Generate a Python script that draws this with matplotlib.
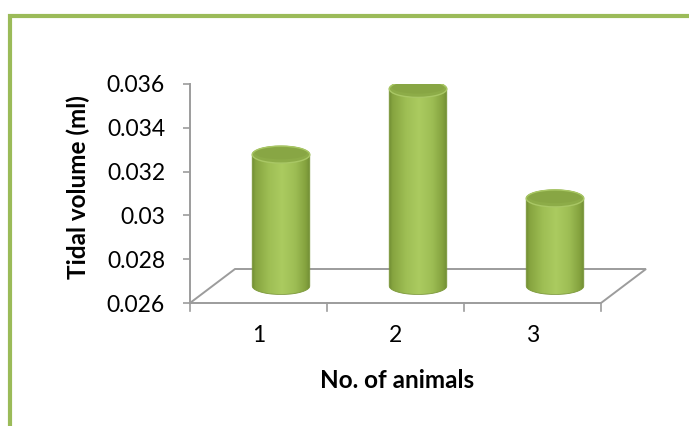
import numpy as np
import matplotlib
matplotlib.use("Agg")
import matplotlib.pyplot as plt
from matplotlib.patches import Ellipse, PathPatch, Rectangle
from matplotlib.path import Path
from matplotlib.colors import to_rgb

# --- data -------------------------------------------------------------
animals = ["1", "2", "3"]
tidal_volume = [0.032, 0.035, 0.030]
y_ticks = [0.026, 0.028, 0.030, 0.032, 0.034, 0.036]
y_tick_labels = ["0.026", "0.028", "0.03", "0.032", "0.034", "0.036"]

GREEN = "#9BBB59"
AXIS_GREY = "#9C9C9C"
plt.rcParams["font.family"] = ["Lato", "DejaVu Sans"]

W, H, DPI = 689, 426, 100
fig = plt.figure(figsize=(W / DPI, H / DPI), dpi=DPI)

# plot area (front plane of the 3-D floor)
left, right, top, bottom = 190, 601, 84, 303
ax = fig.add_axes([left / W, 1 - bottom / H, (right - left) / W, (bottom - top) / H])
ax.set_xlim(0.5, 3.5)
ax.set_ylim(y_ticks[0], y_ticks[-1])


def px_to_data(dx, dy):
    """Convert a pixel offset into data units of the plot area."""
    x0, y0 = ax.get_xlim()[0], ax.get_ylim()[0]
    p = ax.transData.transform((x0, y0))
    q = ax.transData.inverted().transform(p + np.array([dx, dy]))
    return q[0] - x0, q[1] - y0


depth_dx, depth_dy = px_to_data(45, 34)      # full floor depth
mid_dx, mid_dy = depth_dx / 2, depth_dy / 2  # bars stand at mid depth

# --- axes styling -----------------------------------------------------
for side in ["top", "right", "bottom"]:
    ax.spines[side].set_visible(False)
ax.spines["left"].set_color(AXIS_GREY)
ax.spines["left"].set_linewidth(1.4)
ax.set_yticks(y_ticks)
ax.set_yticklabels(y_tick_labels)
ax.tick_params(axis="y", direction="out", length=5, width=1.2, color=AXIS_GREY,
               labelsize=16.5, labelcolor="black", pad=13)
ax.set_xticks([1, 2, 3])
ax.set_xticklabels(animals)
ax.tick_params(axis="x", length=0, labelsize=16.5, labelcolor="black", pad=16)
ax.patch.set_visible(False)

# --- floor outline ----------------------------------------------------
y0 = y_ticks[0]
floor_x = [0.5, 3.5, 3.5 + depth_dx, 0.5 + depth_dx, 0.5]
floor_y = [y0, y0, y0 + depth_dy, y0 + depth_dy, y0]
ax.plot(floor_x, floor_y, color=AXIS_GREY, lw=1.4, clip_on=False, zorder=1,
        solid_joinstyle="miter")
# category boundary ticks on the front edge
tick_len = px_to_data(0, 8)[1]
for xb in [0.5, 1.5, 2.5, 3.5]:
    ax.plot([xb, xb], [y0, y0 - tick_len], color=AXIS_GREY, lw=1.2,
            clip_on=False, zorder=1)

# --- cylinders ----------------------------------------------------------
bar_w = px_to_data(57.5, 0)[0]
ell_h = px_to_data(0, 8.5)[1]          # half height of the elliptical ends
a = bar_w / 2

# horizontal shading across the cylinder body
stops = [(0.00, "#6f8c33"), (0.06, "#86a43f"), (0.30, "#9fbf55"),
         (0.52, "#abcb60"), (0.75, "#9dbd54"), (0.93, "#84a23e"), (1.00, "#718e35")]
xs = np.linspace(0, 1, 256)
grad = np.zeros((1, 256, 3))
for c in range(3):
    grad[0, :, c] = np.interp(xs, [s[0] for s in stops], [to_rgb(s[1])[c] for s in stops])

t = np.linspace(np.pi, 2 * np.pi, 60)
for i, val in enumerate(tidal_volume):
    cx = (i + 1) + mid_dx
    yb = y0 + mid_dy
    yt = val + mid_dy
    # outline: lower half of base ellipse, sides, upper half of top ellipse
    bx = cx + a * np.cos(t)
    by = yb + ell_h * np.sin(t)
    tx = cx + a * np.cos(t[::-1] - np.pi)
    ty = yt + ell_h * np.sin(t[::-1] - np.pi)
    verts = np.vstack([np.column_stack([bx, by]), np.column_stack([tx[::-1], ty[::-1]]),
                       [[bx[0], by[0]]]])
    codes = [Path.MOVETO] + [Path.LINETO] * (len(verts) - 2) + [Path.CLOSEPOLY]
    body = PathPatch(Path(verts, codes), facecolor="none", edgecolor="#7b9839",
                     lw=0.6, zorder=4)
    ax.add_patch(body)
    img = ax.imshow(grad, extent=(cx - a, cx + a, yb - ell_h, yt + ell_h),
                    aspect="auto", origin="lower", zorder=3, interpolation="bilinear")
    img.set_clip_path(body)
    # top cap
    ax.add_patch(Ellipse((cx, yt), 2 * a, 2 * ell_h, facecolor="#8dac48",
                         edgecolor="#a9c765", lw=1.0, zorder=5))
    ax.add_patch(Ellipse((cx, yt + ell_h * 0.15), 2 * a * 0.9, 2 * ell_h * 0.7,
                         facecolor="#88a644", edgecolor="none", zorder=5))

ax.set_xlim(0.5, 3.5)
ax.set_ylim(y_ticks[0], y_ticks[-1])

# --- axis titles --------------------------------------------------------
ax.set_xlabel("No. of animals", fontsize=17.5, fontweight="bold")
ax.xaxis.set_label_coords((397 - left) / (right - left), (bottom - 381) / (bottom - top))
ax.xaxis.label.set_va("center")
ax.set_ylabel("Tidal volume (ml)", fontsize=17.5, fontweight="bold")
ax.yaxis.set_label_coords((78 - left) / (right - left), (bottom - 187) / (bottom - top))
ax.yaxis.label.set_va("center")

# --- chart frame --------------------------------------------------------
fig.add_artist(Rectangle((9.5 / W, -0.2), 1.5, 1 - 16 / H + 0.2,
                         transform=fig.transFigure, fill=False,
                         edgecolor=GREEN, lw=3.0))

fig.savefig("out.png", dpi=DPI)
